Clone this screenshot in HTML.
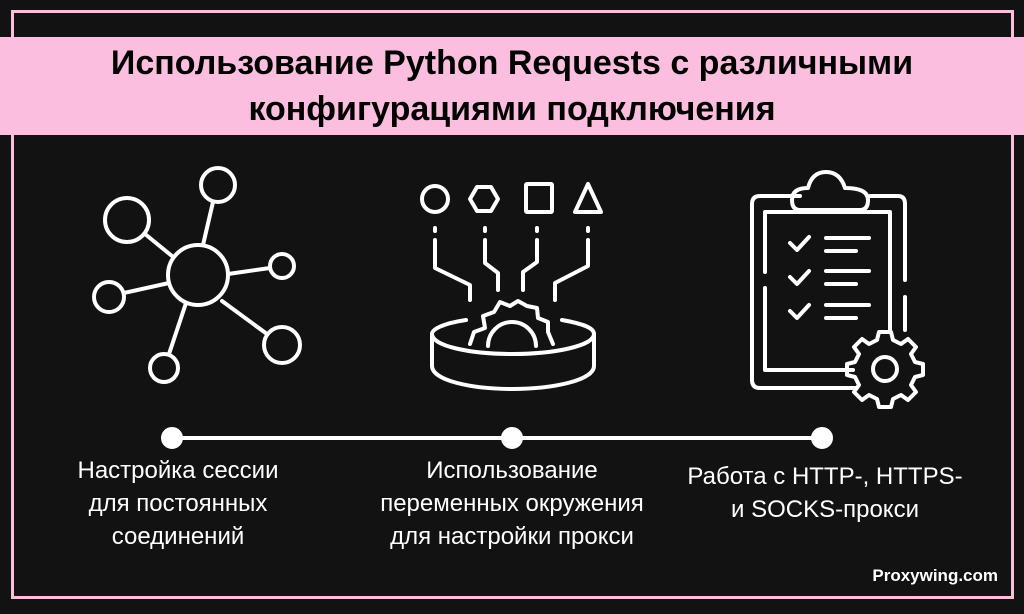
<!DOCTYPE html>
<html><head><meta charset="utf-8"><style>
body{margin:0;width:1024px;height:614px;background:#121212;overflow:hidden;position:relative;font-family:"Liberation Sans",sans-serif}
.frame{position:absolute;left:11px;top:10px;width:997px;height:583px;border:3px solid #fbbedf}
.banner{position:absolute;left:0;top:37px;width:1024px;height:98px;background:#fbbedf;text-align:center;font-weight:bold;font-size:34px;line-height:46px;color:#000;padding-top:3px;box-sizing:border-box}
.t{position:absolute;color:#fff;font-size:24px;line-height:33px;text-align:center;width:400px}
.pw{position:absolute;right:26px;top:566px;color:#fff;font-weight:bold;font-size:17px}
</style></head><body>
<div class="frame"></div>
<div class="banner">Использование Python Requests с различными<br>конфигурациями подключения</div>
<svg width="1024" height="614" style="position:absolute;left:0;top:0" fill="none" stroke="#fff" stroke-width="4" stroke-linecap="round" stroke-linejoin="round">
<g>
<circle cx="198" cy="275" r="30"/>
<circle cx="218" cy="185" r="17"/><line x1="213" y1="202" x2="203" y2="245"/>
<circle cx="127" cy="220" r="22"/><line x1="145" y1="234" x2="172" y2="256"/>
<circle cx="282" cy="266" r="12"/><line x1="270" y1="268" x2="228" y2="274"/>
<circle cx="109" cy="297" r="15"/><line x1="124" y1="293" x2="169" y2="283"/>
<circle cx="282" cy="345" r="18"/><line x1="267" y1="334" x2="222" y2="301"/>
<circle cx="164" cy="368" r="14"/><line x1="169" y1="354" x2="186" y2="303"/>
</g>
<g>
<circle cx="435" cy="199" r="13"/>
<polygon points="470,199 477,187 491,187 498,199 491,211 477,211"/>
<rect x="526" y="184" width="26" height="28" rx="1"/>
<polygon points="588,184 575,212 601,212"/>
<line x1="435" y1="228" x2="435" y2="231"/><line x1="485" y1="228" x2="485" y2="231"/><line x1="537" y1="228" x2="537" y2="231"/><line x1="588" y1="228" x2="588" y2="231"/>
<polyline points="435,240 435,268 470,285 470,300"/>
<polyline points="485,240 485,263 498,273 498,290"/>
<polyline points="537,240 537,262 523,272 523,290"/>
<polyline points="588,240 588,266 555,283 555,300"/>
<path d="M466 320 C440 324 432 330 432 334 L432 366 C432 380 470 389 512 389 C554 389 594 380 594 366 L594 334 C594 328 584 324 562 320"/>
<path d="M432 334 C432 346 470 354 512 354 C554 354 594 346 594 334"/>
<path d="M470 344 L474 332 L485 328 L483 316 L494 312 L500 302 L510 306 L518 301 L527 306 L537 308 L538 318 L548 322 L548 332 L553 344"/>
<path d="M488 346 A24 24 0 0 1 536 346"/>
</g>
<g>
<path d="M800 196 L760 196 Q752 196 752 204 L752 380 Q752 388 760 388 L855 388"/>
<path d="M870 196 L898 196 Q905 196 905 204 L905 280"/>
<line x1="905" y1="297" x2="905" y2="330"/>
<path d="M765 288 L765 370 L853 370"/><path d="M765 272 L765 212 L890 212 L890 330"/>
<path d="M800 210 Q792 210 792 200 Q792 188 808 188 Q812 172 826 172 Q840 172 845 188 Q868 188 868 200 Q868 210 860 210 Z"/>
<path d="M790 243 L797 250 L809 237"/><line x1="826" y1="238" x2="869" y2="238"/><line x1="826" y1="251" x2="856" y2="251"/>
<path d="M790 277 L797 284 L809 271"/><line x1="826" y1="271" x2="869" y2="271"/><line x1="826" y1="284" x2="856" y2="284"/>
<path d="M790 311 L797 318 L809 305"/><line x1="826" y1="305" x2="869" y2="305"/><line x1="826" y1="318" x2="856" y2="318"/>
<path d="M879 332 L891 332 L893 340 L901 344 L908 339 L916 347 L911 354 L915 362 L923 364 L923 375 L915 377 L911 385 L916 392 L908 400 L901 395 L893 399 L891 407 L879 407 L877 399 L869 395 L862 400 L854 392 L859 385 L855 377 L847 375 L847 364 L855 362 L859 354 L854 347 L862 339 L869 344 L877 340 Z"/>
<circle cx="885" cy="369" r="12"/>
</g>
<line x1="172" y1="438" x2="822" y2="438"/>
<circle cx="172" cy="438" r="9" fill="#fff"/><circle cx="512" cy="438" r="9" fill="#fff"/><circle cx="822" cy="438" r="9" fill="#fff"/>
</svg>
<div class="t" style="left:-22px;top:454px">Настройка сессии<br>для постоянных<br>соединений</div>
<div class="t" style="left:312px;top:454px">Использование<br>переменных окружения<br>для настройки прокси</div>
<div class="t" style="left:625px;top:460px">Работа с HTTP-, HTTPS-<br>и SOCKS-прокси</div>
<div class="pw">Proxywing.com</div>
</body></html>
